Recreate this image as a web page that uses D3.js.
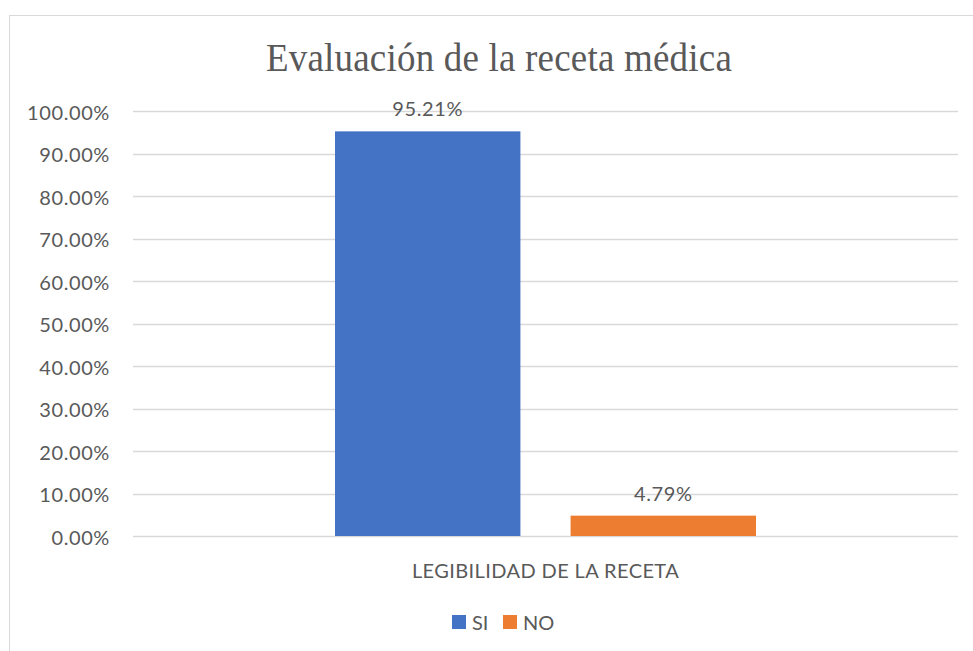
<!DOCTYPE html>
<html>
<head>
<meta charset="utf-8">
<script src="https://cdn.jsdelivr.net/npm/d3@7"></script>
<style>
  body { margin: 0; background: #fff; }
  text { fill: #595959; }
</style>
</head>
<body>
<svg width="973" height="651"></svg>
<script>
// chart values
var category = "LEGIBILIDAD DE LA RECETA";
var series = ["SI", "NO"];
var values = [0.9521, 0.0479];
var colors = ["#4472C4", "#ED7D31"];
var yTicks = [0, 0.1, 0.2, 0.3, 0.4, 0.5, 0.6, 0.7, 0.8, 0.9, 1.0];

var svg = d3.select("svg"),
    width = +svg.attr("width"),
    height = +svg.attr("height"),
    margin = {top: 111, right: 15, bottom: 115, left: 133},
    labelFont = "Lato, 'Open Sans', sans-serif";

// chart border (runs past the window on the right and bottom)
svg.append("rect")
   .attr("x", 9.5).attr("y", 15.5)
   .attr("width", 1000).attr("height", 700)
   .attr("fill", "#fff")
   .attr("stroke", "#d9d9d9");

svg.append("text")
   .attr("x", 499).attr("y", 71)
   .attr("text-anchor", "middle")
   .attr("transform", "translate(499,71) scale(1,1.08) translate(-499,-71)")
   .style("font-family", "'Liberation Serif', 'Times New Roman', serif")
   .style("font-size", "37px")
   .style("letter-spacing", "0.2px")
   .text("Evaluación de la receta médica");

var x0 = d3.scaleBand().domain([category])
    .range([margin.left, width - margin.right]);
var y = d3.scaleLinear().domain([0, 1])
    .range([height - margin.bottom, margin.top]);

// gridlines
svg.append("g").selectAll("line").data(yTicks).enter().append("line")
   .attr("x1", margin.left).attr("x2", width - margin.right)
   .attr("y1", function(d) { return Math.round(y(d)) + 0.5; })
   .attr("y2", function(d) { return Math.round(y(d)) + 0.5; })
   .attr("stroke", "#d9d9d9").attr("stroke-width", 1.5);

// y axis labels
var yAxis = d3.axisLeft(y).tickValues(yTicks).tickSize(0).tickPadding(0)
    .tickFormat(d3.format(".2%"));
var gy = svg.append("g").attr("transform", "translate(110,2)").call(yAxis);
gy.select(".domain").remove();
gy.selectAll("text")
  .style("font-family", labelFont)
  .style("font-size", "20px")
  .style("letter-spacing", "0.6px")
  .attr("fill", "#595959");

// bars
var x1 = d3.scaleBand().domain(series)
    .range([x0(category) + 202, x0(category) + x0.bandwidth() - 202])
    .paddingInner(0.213);

svg.append("g").selectAll("rect").data(values).enter().append("rect")
   .attr("x", function(d, i) { return x1(series[i]); })
   .attr("width", x1.bandwidth())
   .attr("y", function(d) { return y(d); })
   .attr("height", function(d) { return y(0) - y(d); })
   .attr("fill", function(d, i) { return colors[i]; });

// data labels
svg.append("g").selectAll("text").data(values).enter().append("text")
   .attr("x", function(d, i) { return x1(series[i]) + x1.bandwidth() / 2; })
   .attr("y", function(d) { return y(d) - 15; })
   .attr("text-anchor", "middle")
   .style("font-family", labelFont)
   .style("font-size", "20px")
   .style("letter-spacing", "0.6px")
   .text(function(d) { return d3.format(".2%")(d); });

// category label
svg.append("text")
   .attr("x", x0(category) + x0.bandwidth() / 2).attr("y", 578)
   .attr("text-anchor", "middle")
   .style("font-family", labelFont)
   .style("font-size", "20px")
   .style("letter-spacing", "0.4px")
   .text(category);

// legend
var legendX = [452, 503];
var lg = svg.append("g").selectAll("g").data(series).enter().append("g")
   .attr("transform", function(d, i) { return "translate(" + legendX[i] + ",615)"; });
lg.append("rect").attr("width", 14).attr("height", 14)
   .attr("fill", function(d, i) { return colors[i]; });
lg.append("text").attr("x", 20).attr("y", 15)
   .style("font-family", labelFont)
   .style("font-size", "20px")
   .text(function(d) { return d; });
</script>
</body>
</html>
